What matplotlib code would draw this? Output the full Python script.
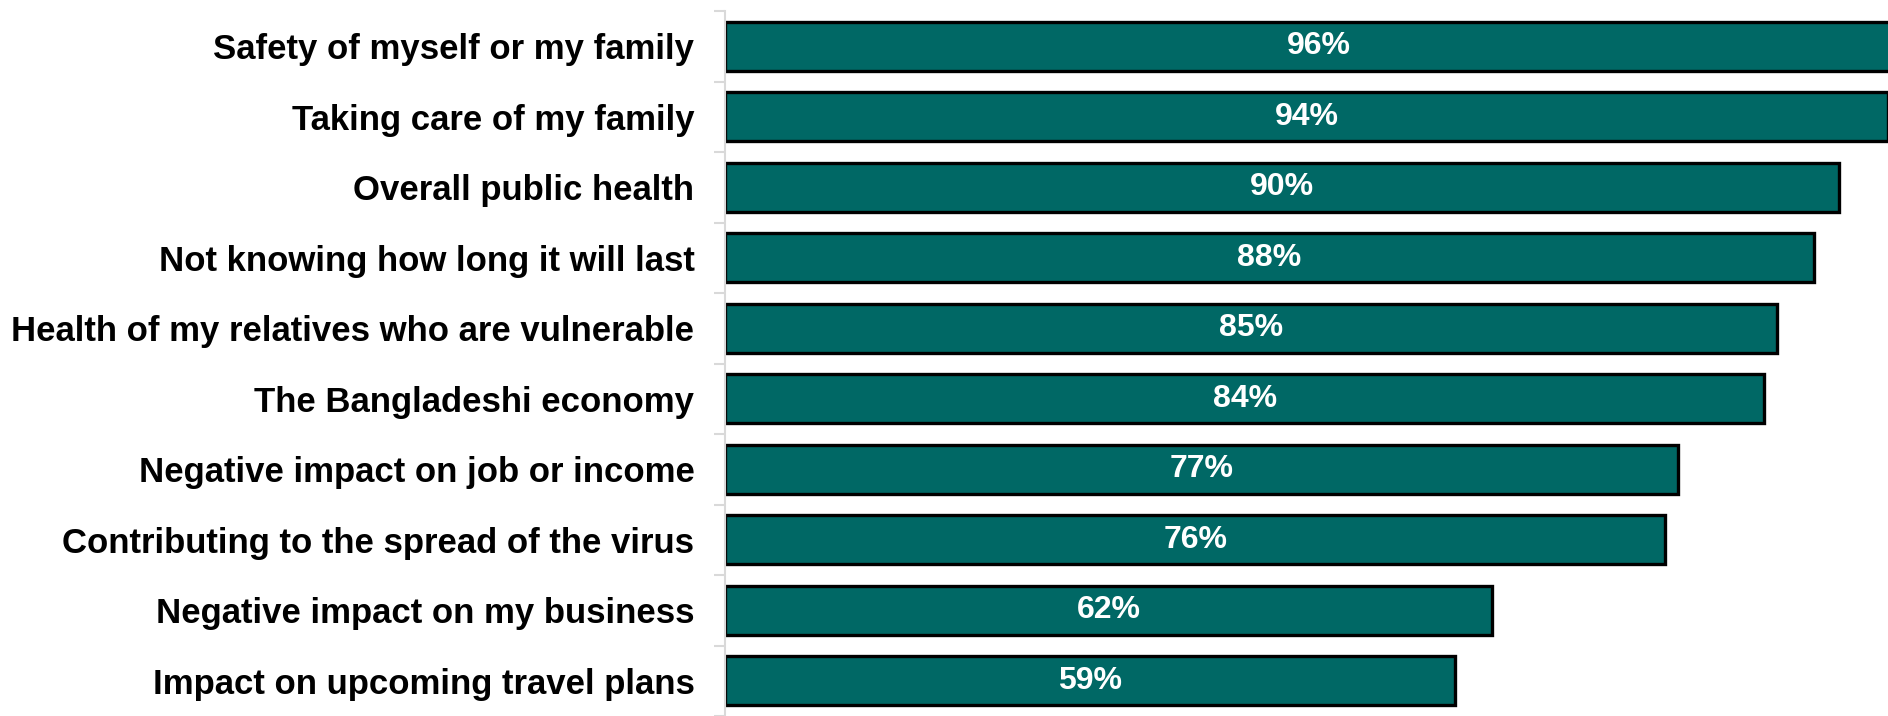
import matplotlib
matplotlib.use("Agg")
import matplotlib.pyplot as plt
import numpy as np

categories = [
    "Safety of myself or my family",
    "Taking care of my family",
    "Overall public health",
    "Not knowing how long it will last",
    "Health of my relatives who are vulnerable",
    "The Bangladeshi economy",
    "Negative impact on job or income",
    "Contributing to the spread of the virus",
    "Negative impact on my business",
    "Impact on upcoming travel plans",
]
values = [96, 94, 90, 88, 85, 84, 77, 76, 62, 59]
labels = ["96%", "94%", "90%", "88%", "85%", "84%", "77%", "76%", "62%", "59%"]

plt.rcParams['font.family'] = ['Liberation Sans', 'DejaVu Sans']

fig = plt.figure(figsize=(18.88, 7.16), dpi=100)
ax = fig.add_axes([725 / 1888, 0, 1 - 725 / 1888, 1 - 11 / 716])

y = np.arange(len(categories))
ax.barh(y, values, height=0.70, color="#006865", edgecolor="black", linewidth=2.4)

ax.set_xlim(0, 94)
ax.set_ylim(9.36, -0.5)

# value labels in the middle of each bar
for yi, v, lab in zip(y, values, labels):
    ax.text(v / 2, yi, lab, ha="center", va="center", color="white",
            fontsize=23, fontweight="bold")

ax.set_yticks(y)
ax.set_yticklabels(categories, fontsize=25, fontweight="bold")
ax.tick_params(axis="y", which="major", length=0, pad=22)
ax.set_yticks(np.arange(-0.5, len(categories), 1), minor=True)
ax.tick_params(axis="y", which="minor", length=8, color="#d9d9d9", width=1.5)
ax.set_xticks([])

for s in ["top", "right", "bottom"]:
    ax.spines[s].set_visible(False)
ax.spines["left"].set_color("#d9d9d9")
ax.spines["left"].set_linewidth(1.5)

fig.savefig("out.png", dpi=100)
